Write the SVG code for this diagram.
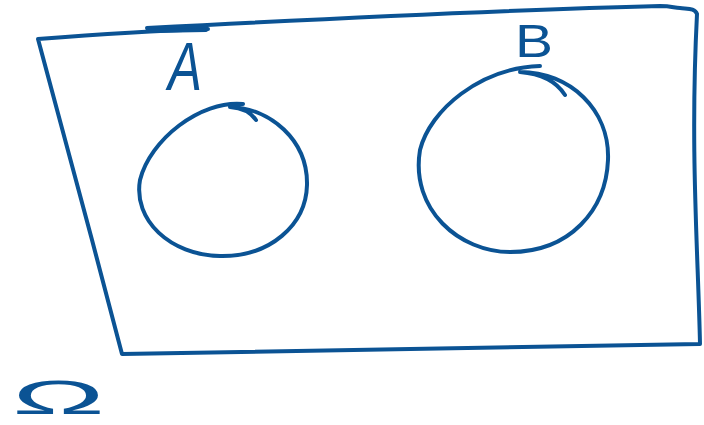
<svg xmlns="http://www.w3.org/2000/svg" width="704" height="425" viewBox="0 0 704 425">
<style>
.s{fill:none;stroke:#0b5394;stroke-width:4;stroke-linecap:round;stroke-linejoin:round}
.t{fill:#0b5394;font-family:"Liberation Sans",Arial,sans-serif}
</style>
<rect width="704" height="425" fill="#fff"/>
<g id="universe">
<path class="s" d="M208,29 C150,31 90,35 38,39 C60,120 95,250 122,354 C300,350 500,346 700,344 C698,250 690,150 697,14 C695,8 688,9 680,8 C674,8 672,6 660,6 C500,10 300,20 147,28"/>
<path class="s" d="M150,31 L206,30" stroke-width="5"/>
</g>
<g id="setA">
<path class="s" d="M243,104 C200,100 150,140 140,180 C133,220 170,255 220,256 C270,257 306,225 307,185 C308,140 270,108 230,107 C245,108 252,114 256,120"/>
</g>
<g id="setB">
<path class="s" d="M540,66 C480,68 430,110 420,150 C410,210 460,252 510,252 C570,252 606,210 608,160 C610,110 570,72 520,72 C545,74 558,84 565,95"/>
</g>
<g id="labels">
<text class="t" x="168" y="90" font-size="68" font-style="italic" textLength="34" lengthAdjust="spacingAndGlyphs">A</text>
<text class="t" x="515" y="57" font-size="46" textLength="38" lengthAdjust="spacingAndGlyphs">B</text>
<text class="t" x="12" y="414" font-size="48" textLength="93" lengthAdjust="spacingAndGlyphs">Ω</text>
</g>
</svg>
